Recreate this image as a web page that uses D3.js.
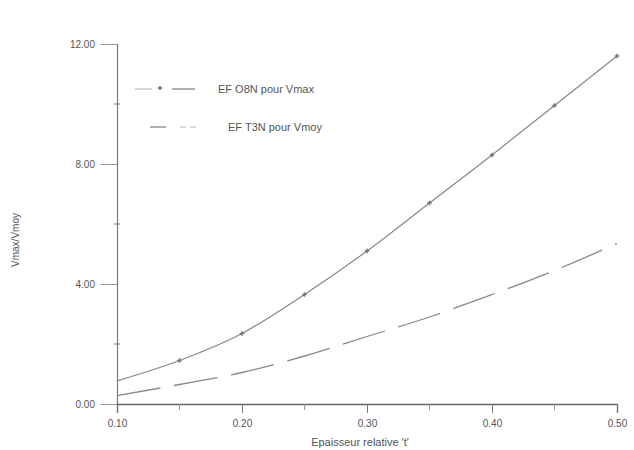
<!DOCTYPE html>
<html>
<head>
<meta charset="utf-8">
<script src="https://cdn.jsdelivr.net/npm/d3@7"></script>
<style>
  html, body { margin: 0; padding: 0; background: #fff; }
  svg { display: block; font-family: "Liberation Sans", Arial, sans-serif; }
</style>
</head>
<body>
<svg id="chart" width="634" height="450"></svg>
<script>
// Relative thickness t
const thickness = [0.10, 0.15, 0.20, 0.25, 0.30, 0.35, 0.40, 0.45, 0.50];
// Vmax/Vmoy ratio, EF O8N (Vmax)
const vmaxSeries = [0.77, 1.45, 2.35, 3.65, 5.10, 6.70, 8.30, 9.95, 11.6];
// Vmax/Vmoy ratio, EF T3N (Vmoy)
const vmoySeries = [0.28, 0.65, 1.05, 1.60, 2.25, 2.90, 3.65, 4.45, 5.35];

const xMajor = [0.10, 0.20, 0.30, 0.40, 0.50];
const xMinor = [0.15, 0.25, 0.35, 0.45];
const yMajor = [0, 4, 8, 12];
const yMinor = [2, 6, 10];

const legendLabels = ["EF O8N pour Vmax", "EF T3N pour Vmoy"];
const xTitle = "Epaisseur relative 't'";
const yTitle = "Vmax/Vmoy";

const svg = d3.select("#chart");
const ink = "#555";

const x = d3.scaleLinear().domain([0.10, 0.50]).range([117, 617]);
const y = d3.scaleLinear().domain([0, 12]).range([404, 44]);

// Y axis
const yAxis = d3.axisLeft(y)
  .tickValues(yMajor)
  .tickSize(16)
  .tickPadding(6)
  .tickFormat(d3.format(".2f"));
const gy = svg.append("g").attr("transform", `translate(${x(0.10)},0)`).call(yAxis);
gy.select(".domain").attr("stroke", "#777").attr("stroke-width", 1.2);
gy.selectAll(".tick line").attr("stroke", "#999");
gy.selectAll(".tick text").attr("fill", ink).attr("font-size", 10);
gy.selectAll(".minor").data(yMinor).enter().append("line")
  .attr("x1", -3).attr("x2", 3)
  .attr("y1", d => y(d)).attr("y2", d => y(d))
  .attr("stroke", "#777");

// X axis
const xAxis = d3.axisBottom(x)
  .tickValues(xMajor)
  .tickSize(9)
  .tickPadding(7)
  .tickFormat(d3.format(".2f"));
const gx = svg.append("g").attr("transform", `translate(0,${y(0)})`).call(xAxis);
gx.select(".domain").attr("stroke", "#666").attr("stroke-width", 1.4);
gx.selectAll(".tick line").attr("stroke", "#777");
gx.selectAll(".tick text").attr("fill", ink).attr("font-size", 10);
gx.selectAll(".minor").data(xMinor).enter().append("line")
  .attr("x1", d => x(d)).attr("x2", d => x(d))
  .attr("y1", 0).attr("y2", 6)
  .attr("stroke", "#999");

// Axis titles
svg.append("text")
  .attr("x", 360).attr("y", 446)
  .attr("text-anchor", "middle")
  .attr("font-size", 11).attr("fill", ink)
  .text(xTitle);
svg.append("text")
  .attr("transform", "translate(19,240) rotate(-90)")
  .attr("text-anchor", "middle")
  .attr("font-size", 10).attr("fill", ink)
  .text(yTitle);

// Curves
const line = d3.line().curve(d3.curveMonotoneX);
const upperPts = thickness.map((t, i) => [x(t), y(vmaxSeries[i])]);
const lowerPts = thickness.map((t, i) => [x(t), y(vmoySeries[i])]);

svg.append("path")
  .attr("d", line(upperPts))
  .attr("fill", "none")
  .attr("stroke", "#888")
  .attr("stroke-width", 1.2);

svg.append("path")
  .attr("d", line(lowerPts))
  .attr("fill", "none")
  .attr("stroke", "#888")
  .attr("stroke-width", 1.3)
  .attr("stroke-dasharray", "44,14");

// Markers on the Vmax curve
const marker = d3.symbol().type(d3.symbolCross).size(12);
svg.selectAll(".mk").data(upperPts.slice(1)).enter().append("path")
  .attr("d", marker)
  .attr("transform", d => `translate(${d[0]},${d[1]})`)
  .attr("fill", "#777");

// Legend
const lg = svg.append("g");
lg.append("line").attr("x1", 135).attr("x2", 152).attr("y1", 89).attr("y2", 89)
  .attr("stroke", "#bbb").attr("stroke-width", 1.2);
lg.append("path").attr("d", marker).attr("transform", "translate(160,88)").attr("fill", "#777");
lg.append("line").attr("x1", 172).attr("x2", 195).attr("y1", 89).attr("y2", 89)
  .attr("stroke", "#777").attr("stroke-width", 1.2);
lg.append("text").attr("x", 218).attr("y", 93).attr("font-size", 11).attr("fill", ink)
  .text(legendLabels[0]);

lg.append("line").attr("x1", 150).attr("x2", 166).attr("y1", 127).attr("y2", 127)
  .attr("stroke", "#777").attr("stroke-width", 1.2);
lg.append("line").attr("x1", 180).attr("x2", 200).attr("y1", 127).attr("y2", 127)
  .attr("stroke", "#bbb").attr("stroke-width", 1.2).attr("stroke-dasharray", "6,4");
lg.append("text").attr("x", 228).attr("y", 131).attr("font-size", 11).attr("fill", ink)
  .text(legendLabels[1]);
</script>
</body>
</html>
